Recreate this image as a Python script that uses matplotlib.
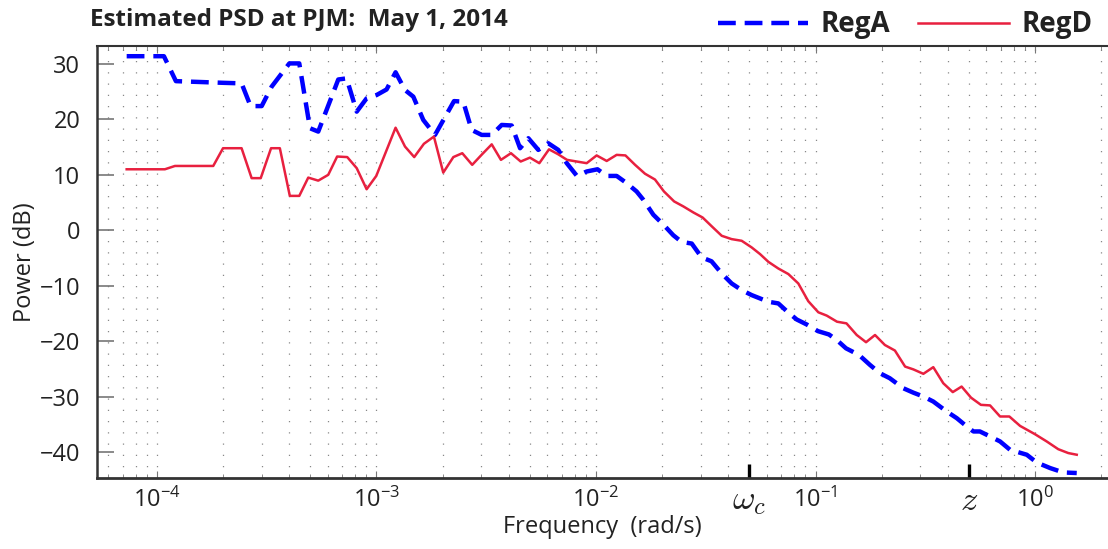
import numpy as np
import matplotlib
matplotlib.use("Agg")
import matplotlib.pyplot as plt

plt.rcParams['font.family'] = ['Open Sans', 'DejaVu Sans']
plt.rcParams['mathtext.fontset'] = 'custom'
plt.rcParams['mathtext.rm'] = 'Open Sans'
plt.rcParams['mathtext.it'] = 'Open Sans:italic'

# frequency (rad/s) and estimated power (dB)
freq_a = [7.28e-5, 1.076e-4, 1.22e-4, 2.00e-4, 2.43e-4, 2.67e-4, 3.00e-4, 3.33e-4,
          4.01e-4, 4.45e-4, 4.98e-4, 5.43e-4, 6.70e-4, 7.31e-4, 8.13e-4, 9.02e-4,
          1.002e-3, 1.112e-3, 1.222e-3, 1.349e-3, 1.472e-3, 1.634e-3, 1.848e-3,
          2.256e-3, 2.485e-3, 2.714e-3, 3.015e-3, 3.35e-3, 3.72e-3, 4.13e-3, 4.51e-3,
          4.92e-3, 5.46e-3, 6.06e-3, 6.73e-3, 7.36e-3, 8.19e-3, 9.07e-3, 1.016e-2,
          1.119e-2, 1.242e-2, 1.380e-2, 1.531e-2, 1.643e-2, 1.825e-2, 2.03e-2, 2.25e-2,
          2.455e-2, 2.73e-2, 3.03e-2, 3.36e-2, 3.74e-2, 4.15e-2, 4.61e-2, 5.12e-2,
          6.10e-2, 6.77e-2, 7.40e-2, 8.21e-2, 9.12e-2, 1.026e-1, 1.151e-1, 1.250e-1,
          1.377e-1, 1.578e-1, 1.771e-1, 1.967e-1, 2.18e-1, 2.51e-1, 2.79e-1, 3.10e-1,
          3.44e-1, 3.96e-1, 4.40e-1, 4.89e-1, 5.24e-1, 5.61e-1, 6.24e-1, 6.93e-1,
          7.69e-1, 9.17e-1, 1.018, 1.171, 1.346, 1.549]
psd_a = [31.4, 31.4, 26.9, 26.6, 26.5, 22.4, 22.4, 25.9, 30.1, 30.1, 18.4, 17.8, 27.2,
         27.4, 21.4, 23.8, 24.4, 25.4, 28.5, 25.3, 24.1, 19.9, 17.2, 23.3, 23.2, 18.1,
         17.2, 17.2, 19.0, 18.9, 14.8, 16.6, 14.5, 15.7, 14.5, 12.1, 9.8, 10.6, 11.0,
         9.8, 9.8, 8.5, 7.0, 5.5, 2.8, 1.0, -0.9, -2.1, -2.4, -4.9, -5.6, -7.8, -9.6,
         -10.8, -11.7, -12.9, -13.2, -14.6, -16.1, -17.0, -18.2, -18.8, -19.8, -21.3,
         -22.5, -24.3, -25.8, -26.7, -28.5, -29.3, -30.0, -30.9, -32.7, -33.9, -35.4,
         -36.3, -36.3, -37.2, -38.1, -39.6, -40.5, -41.9, -42.9, -43.7, -43.8]

freq_d = [7.28e-5, 1.087e-4, 1.208e-4, 1.805e-4, 2.00e-4, 2.43e-4, 2.70e-4, 2.97e-4,
          3.31e-4, 3.63e-4, 4.03e-4, 4.45e-4, 4.89e-4, 5.43e-4, 6.03e-4, 6.62e-4,
          7.36e-4, 8.13e-4, 9.02e-4, 9.98e-4, 1.222e-3, 1.349e-3, 1.486e-3, 1.645e-3,
          1.827e-3, 2.015e-3, 2.24e-3, 2.46e-3, 2.73e-3, 3.01e-3, 3.35e-3, 3.69e-3,
          4.10e-3, 4.54e-3, 5.00e-3, 5.52e-3, 6.11e-3, 6.73e-3, 7.38e-3, 8.17e-3,
          9.07e-3, 1.007e-2, 1.119e-2, 1.242e-2, 1.362e-2, 1.507e-2, 1.672e-2, 1.857e-2,
          2.04e-2, 2.27e-2, 2.50e-2, 2.78e-2, 3.06e-2, 3.39e-2, 3.74e-2, 4.15e-2,
          4.61e-2, 5.12e-2, 5.59e-2, 6.10e-2, 6.77e-2, 7.52e-2, 8.35e-2, 9.27e-2,
          1.030e-1, 1.125e-1, 1.253e-1, 1.384e-1, 1.541e-1, 1.699e-1, 1.867e-1, 2.07e-1,
          2.30e-1, 2.56e-1, 2.79e-1, 3.10e-1, 3.44e-1, 3.82e-1, 4.22e-1, 4.63e-1,
          5.11e-1, 5.67e-1, 6.24e-1, 6.93e-1, 7.64e-1, 8.55e-1, 1.000, 1.130, 1.276,
          1.418, 1.549]
psd_d = [11.0, 11.0, 11.6, 11.6, 14.8, 14.8, 9.4, 9.4, 14.8, 14.8, 6.2, 6.2, 9.5, 8.95,
         10.0, 13.3, 13.2, 11.2, 7.4, 9.8, 18.5, 15.1, 13.2, 15.6, 16.9, 10.4, 13.2, 13.9,
         11.8, 13.6, 15.5, 12.7, 13.9, 12.4, 13.1, 12.1, 14.6, 13.7, 12.7, 12.4, 12.1,
         13.5, 12.5, 13.6, 13.5, 11.8, 10.2, 9.15, 7.0, 5.2, 4.3, 3.2, 2.3, 0.6, -1.0,
         -1.6, -1.9, -3.1, -4.3, -5.7, -6.9, -7.9, -9.6, -12.8, -14.8, -15.4, -16.5,
         -16.8, -18.9, -20.2, -18.9, -20.7, -21.7, -24.6, -25.1, -25.9, -24.7, -27.6,
         -29.2, -28.2, -30.2, -31.5, -31.6, -33.6, -33.6, -35.3, -36.8, -38.1, -39.5,
         -40.2, -40.5]

decades = [1e-4, 1e-3, 1e-2, 1e-1, 1e0]
decade_labels = [r'$10^{-4}$', r'$10^{-3}$', r'$10^{-2}$', r'$10^{-1}$', r'$10^{0}$']
omega_c = 0.05   # crossover frequency
zero_z = 0.5     # controller zero

fig = plt.figure(figsize=(11.08, 5.49), dpi=100)
ax = fig.add_axes([0.0875, 0.1293, 0.9125, 0.787])

ax.semilogx(freq_a, psd_a, color='#0000ff', lw=3.2, dashes=(4, 2), label='RegA')
ax.semilogx(freq_d, psd_d, color='#e8203f', lw=1.8, label='RegD')

ax.set_xlim(5.33e-5, 2.15)
ax.set_ylim(-44.7, 33.25)
ax.set_yticks(np.arange(-40, 31, 10))

ax.set_xticks(decades + [omega_c, zero_z])
ax.set_xticklabels(decade_labels + [r'$\omega_c$', r'$z$'])

ax.grid(True, which='both', axis='x', color='#888888', lw=0.9, linestyle=(0, (1, 8)))
ax.tick_params(axis='both', which='both', direction='in', colors='#777777',
               labelcolor='#222222', labelsize=17, top=True)
ax.tick_params(axis='x', which='major', length=5, pad=7)
ax.tick_params(axis='x', which='minor', length=3)
ax.tick_params(axis='y', length=12, width=1.2, pad=12)

# the two special frequencies get bold black ticks and serif labels
for t in ax.xaxis.get_major_ticks()[-2:]:
    t.set_pad(4)
    t.tick1line.set_markeredgecolor('k')
    t.tick1line.set_markeredgewidth(2.4)
    t.tick1line.set_markersize(10)
    t.tick2line.set_visible(False)
    t.label1.set_math_fontfamily('cm')
    t.label1.set_fontsize(25)

ax.spines['right'].set_visible(False)
ax.spines['left'].set_color('#333333')
ax.spines['left'].set_linewidth(1.8)
ax.spines['top'].set_color('#333333')
ax.spines['top'].set_linewidth(1.5)
ax.spines['bottom'].set_color('#333333')
ax.spines['bottom'].set_linewidth(2.0)

ax.set_xlabel('Frequency  (rad/s)', fontsize=17, color='#222222', labelpad=-2)
ax.set_ylabel('Power (dB)', fontsize=17, color='#222222', labelpad=2)

fig.text(0.081, 0.963, 'Estimated PSD at PJM:  May 1, 2014', fontsize=17.5,
         fontweight='bold', color='#222222', va='center')

leg = ax.legend(loc='lower right', bbox_to_anchor=(0.985, 1.015), ncol=2, frameon=False,
                fontsize=20, handlelength=3.25, columnspacing=1.0, handletextpad=0.47,
                borderaxespad=0.0, borderpad=0.0)
for txt in leg.get_texts():
    txt.set_fontweight('bold')
    txt.set_color('#222222')

fig.savefig('out.png', dpi=100)
